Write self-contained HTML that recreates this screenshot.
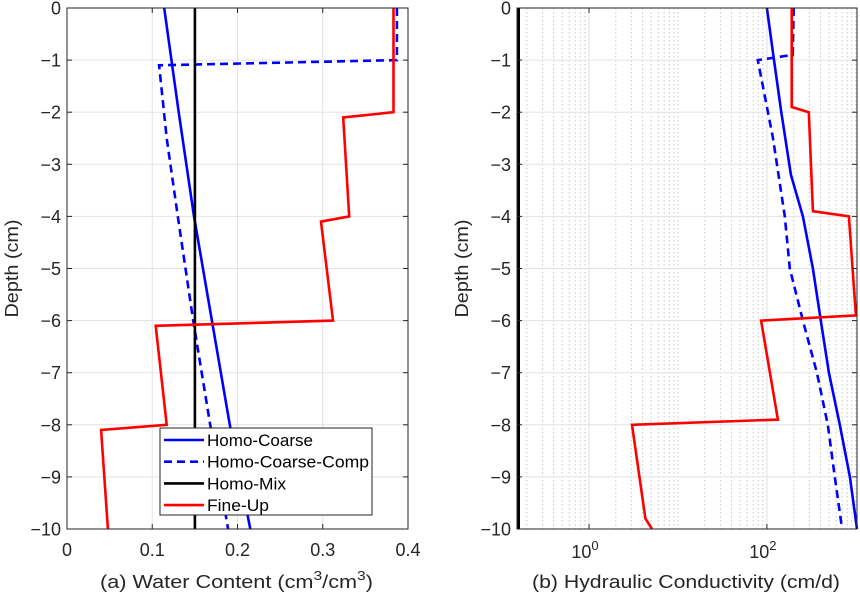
<!DOCTYPE html>
<html><head><meta charset="utf-8"><style>
body{margin:0;background:#fff}
svg{display:block;font-family:"Liberation Sans",sans-serif}
</style></head><body>
<svg id="c" width="860" height="594" xmlns="http://www.w3.org/2000/svg"></svg>
<script>
// ---- data ----
const depthTicks=[0,-1,-2,-3,-4,-5,-6,-7,-8,-9,-10];
const wcTicks=[0,0.1,0.2,0.3,0.4];
const wcTickLabels=["0","0.1","0.2","0.3","0.4"];
const seriesNames=["Homo-Coarse","Homo-Coarse-Comp","Homo-Mix","Fine-Up"];
const wcCoarseD=[0,-2,-4,-6,-8,-10];
const wcCoarseV=[0.114,0.131,0.149,0.170,0.191,0.215];
const wcCompD=[0,-1,-1.1,-2.5,-4,-6,-8,-10];
const wcCompV=[0.387,0.387,0.108,0.117,0.130,0.148,0.168,0.189];
const wcMixD=[0,-10];
const wcMixV=[0.15,0.15];
const wcFineD=[0,-2,-2.1,-4,-4.1,-6,-6.1,-8,-8.1,-10];
const wcFineV=[0.383,0.383,0.324,0.331,0.298,0.312,0.104,0.117,0.040,0.048];
const kTicks=[1,100];
const kTickLabels=["10","10"];
const kTickExp=["0","2"];
const kCoarseD=[0,-1,-2,-3.2,-4,-5,-6,-7,-8,-9,-10];
const kCoarseV=[100,120,145,186,254,329,404,498,660,856,1030];
const kCompD=[0,-0.9,-1,-2.5,-4,-5,-6,-7,-8,-9,-10];
const kCompV=[200,195,79,117,159,181,254,365,484,580,700];
const kFineD=[0,-1.9,-2,-3.9,-4,-5.9,-6,-7.9,-8,-9.8,-10];
const kFineV=[190,190,296,329,836,1000,86,133,3.04,4.3,5.1];

const NS="http://www.w3.org/2000/svg";
const svg=document.getElementById('c');
function el(t,a,p){const e=document.createElementNS(NS,t);for(const k in a)e.setAttribute(k,a[k]);(p||svg).appendChild(e);return e;}
const plotTop=8,plotBot=529;
const y=d=>plotTop+(0-d)/10*(plotBot-plotTop);
const L0=67,L1=408;
const xA=v=>L0+v/0.4*(L1-L0);
const R0=517,R1=857,lmin=Math.log10(0.155),lmax=Math.log10(1030);
const xB=v=>R0+(Math.log10(v)-lmin)/(lmax-lmin)*(R1-R0);
const TXT='#262626';

function axes(name){
  const g=el('g',{});
  
  
  return g;
}
const ga=axes('water-content-axes');
wcTicks.forEach(v=>{const l=el('line',{x1:xA(v),x2:xA(v),y1:plotTop,y2:plotBot,stroke:'#e3e3e3','stroke-width':1},ga);
});
depthTicks.forEach(d=>{const l=el('line',{x1:L0,x2:L1,y1:y(d),y2:y(d),stroke:'#e3e3e3','stroke-width':1},ga);
});
const gb=axes('conductivity-axes');
for(let e=-1;e<=3;e++){for(let m=1;m<=9;m++){const v=m*Math.pow(10,e);
 if(v<0.155||v>1030)continue;
 const major=(v===1||v===100);
 const l=el('line',{x1:xB(v),x2:xB(v),y1:plotTop,y2:plotBot,stroke:major?'#e0e0e0':'#c8c8c8','stroke-width':1,'stroke-dasharray':major?'':'1.5,2.5'},gb);
 }}
depthTicks.forEach(d=>{const l=el('line',{x1:R0,x2:R1,y1:y(d),y2:y(d),stroke:'#e3e3e3','stroke-width':1},gb);
});

function series(g,D,V,fx,color,dash,name){
  const pts=D.map((d,i)=>fx(V[i]).toFixed(1)+','+y(d).toFixed(1)).join(' ');
  const p=el('polyline',{points:pts,fill:'none',stroke:color,'stroke-width':2.6,'stroke-dasharray':dash||'','stroke-linejoin':'miter'},g);
  
  
}
series(ga,wcCoarseD,wcCoarseV,xA,'#0000ff','','homo-coarse-line');
series(ga,wcCompD,wcCompV,xA,'#0000ff','8,5','homo-coarse-comp-line');
series(ga,wcMixD,wcMixV,xA,'#000000','','homo-mix-line');
series(ga,wcFineD,wcFineV,xA,'#ff0000','','fine-up-line');
const mixB=el('line',{x1:R0+1.5,x2:R0+1.5,y1:plotTop,y2:plotBot,stroke:'#000','stroke-width':3},gb);

series(gb,kCoarseD,kCoarseV,xB,'#0000ff','','homo-coarse-line');
series(gb,kCompD,kCompV,xB,'#0000ff','8,5','homo-coarse-comp-line');
series(gb,kFineD,kFineV,xB,'#ff0000','','fine-up-line');

function frame(g,x0,x1,xt,fx){
  const r=el('rect',{x:x0,y:plotTop,width:x1-x0,height:plotBot-plotTop,fill:'none',stroke:TXT,'stroke-width':1},g);
  
  depthTicks.forEach(d=>{
    el('line',{x1:x0,x2:x0+5,y1:y(d),y2:y(d),stroke:TXT},g);
    el('line',{x1:x1-5,x2:x1,y1:y(d),y2:y(d),stroke:TXT},g);
    const t=el('text',{x:x0-6,y:y(d)+6.5,'text-anchor':'end','font-size':18,fill:TXT},g);
    t.textContent=d===0?'0':'\u2212'+(-d);
    
  });
  xt.forEach(v=>{el('line',{x1:fx(v),x2:fx(v),y1:plotBot,y2:plotBot-5,stroke:TXT},g);el('line',{x1:fx(v),x2:fx(v),y1:plotTop,y2:plotTop+5,stroke:TXT},g);});
  const yl=el('text',{transform:`translate(${x0-49},${(plotTop+plotBot)/2}) rotate(-90)`,'text-anchor':'middle','font-size':18,fill:TXT,textLength:98,lengthAdjust:'spacingAndGlyphs'},g);
  yl.textContent='Depth (cm)';
  
}
frame(ga,L0,L1,wcTicks,xA);
frame(gb,R0,R1,kTicks,xB);
wcTicks.forEach((v,i)=>{const t=el('text',{x:xA(v),y:556,'text-anchor':'middle','font-size':18,fill:TXT},ga);
t.textContent=wcTickLabels[i];});
kTicks.forEach((v,i)=>{const t=el('text',{x:xB(v)-4,y:558,'text-anchor':'middle','font-size':18,fill:TXT},gb);
t.textContent=kTickLabels[i];const s=el('tspan',{dy:-8,'font-size':13},t);s.textContent=kTickExp[i];
});
const xa=el('text',{x:100,y:588,'font-size':18,fill:TXT,textLength:273,lengthAdjust:'spacingAndGlyphs'},ga);
xa.innerHTML='(a) Water Content (cm<tspan dy="-8" font-size="13">3</tspan><tspan dy="8">/cm</tspan><tspan dy="-8" font-size="13">3</tspan><tspan dy="8">)</tspan>';

const xb=el('text',{x:532,y:588,'font-size':18,fill:TXT,textLength:308,lengthAdjust:'spacingAndGlyphs'},gb);
xb.textContent='(b) Hydraulic Conductivity (cm/d)';


const lg=el('g',{});


el('rect',{x:160,y:428,width:212,height:87,fill:'#fff',stroke:TXT,'stroke-width':1},lg);
const lc=['#0000ff','#0000ff','#000','#ff0000'],ld=['','8,5','',''];
const lw=[106,162,79,62];
seriesNames.forEach((n,i)=>{const yy=440+i*21.7;
 const e=el('g',{},lg);
 
 
 el('line',{x1:164,x2:204,y1:yy,y2:yy,stroke:lc[i],'stroke-width':2.6,'stroke-dasharray':ld[i]},e);
 const t=el('text',{x:207,y:yy+6,'font-size':17,fill:'#000',textLength:lw[i],lengthAdjust:'spacingAndGlyphs'},e);t.textContent=n;});
</script>
</body></html>
